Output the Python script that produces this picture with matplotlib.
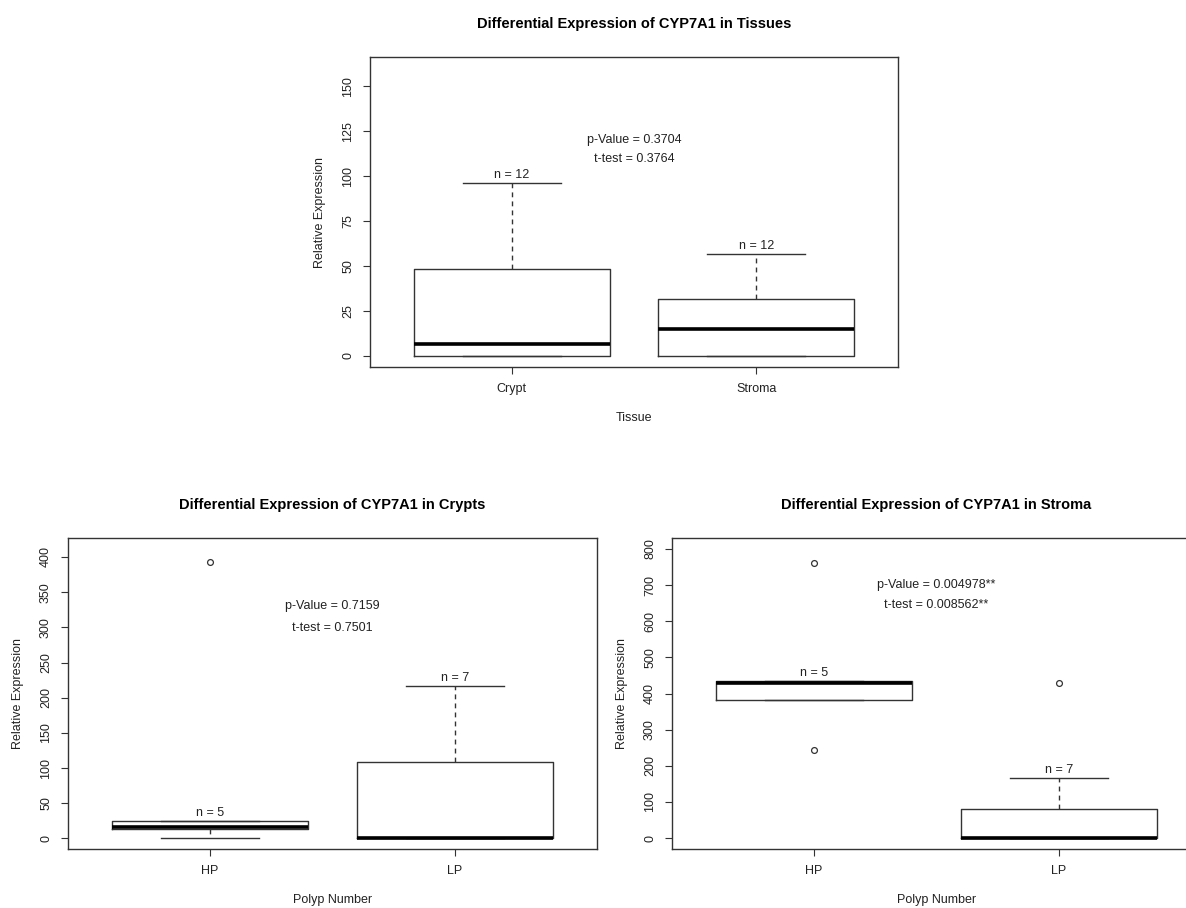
import matplotlib
matplotlib.use("Agg")
import matplotlib.pyplot as plt

plt.rcParams['font.family'] = ['Liberation Sans', 'DejaVu Sans']

# ---- Data ----
tissue_cats = ['Crypt', 'Stroma']
tissue_low = [0, 0]
tissue_q1 = [0, 0]
tissue_med = [6.5, 15]
tissue_q3 = [48, 31.5]
tissue_high = [96, 56.5]
tissue_fliers = [[], []]
tissue_n = ['n = 12', 'n = 12']
tissue_stats_text = ['p-Value = 0.3704', 't-test = 0.3764']

polyp_cats = ['HP', 'LP']
crypt_low = [0, 0]
crypt_q1 = [13.4, 0]
crypt_med = [16.7, 0.5]
crypt_q3 = [24.9, 108]
crypt_high = [24.9, 216]
crypt_fliers = [[393], []]
crypt_n = ['n = 5', 'n = 7']
crypt_stats_text = ['p-Value = 0.7159', 't-test = 0.7501']

stroma_low = [382, 0]
stroma_q1 = [382, 0]
stroma_med = [428, 0]
stroma_q3 = [434, 81]
stroma_high = [434, 165]
stroma_fliers = [[243, 762], [428]]
stroma_n = ['n = 5', 'n = 7']
stroma_stats_text = ['p-Value = 0.004978**', 't-test = 0.008562**']

W, H = 1186, 908
fig = plt.figure(figsize=(W / 100, H / 100), dpi=100)

LC = '#333333'
PT = 0.72  # points per pixel at dpi 100


def make_panel(rect, cats, low, q1, med, q3, high, fliers, nlab, stxt,
               ylim, yticks, title, xlabel, stxt_y):
    ax = fig.add_axes(rect)
    stats = []
    for i in range(len(cats)):
        stats.append(dict(med=med[i], q1=q1[i], q3=q3[i], whislo=low[i],
                          whishi=high[i], fliers=fliers[i], label=cats[i]))
    ax.bxp(stats, positions=[1, 2], widths=0.8, capwidths=0.4,
           patch_artist=False,
           boxprops=dict(color=LC, linewidth=1.0),
           medianprops=dict(color='black', linewidth=2.6, solid_capstyle='butt'),
           whiskerprops=dict(color=LC, linewidth=1.0, linestyle=(0, (3.5, 3))),
           capprops=dict(color=LC, linewidth=1.0),
           flierprops=dict(marker='o', markerfacecolor='none',
                           markeredgecolor=LC, markersize=4.2,
                           markeredgewidth=0.9))
    ax.set_xlim(0.42, 2.58)
    ax.set_ylim(*ylim)
    ax.set_xticks([1, 2])
    ax.set_xticklabels(cats)
    ax.set_yticks(yticks)
    ax.set_yticklabels([str(t) for t in yticks], rotation=90, va='center')
    ax.tick_params(axis='both', direction='out', length=5, width=0.8,
                   colors=LC, labelcolor='#222222', labelsize=9, pad=6.5)
    for s in ax.spines.values():
        s.set_color(LC)
        s.set_linewidth(1.0)
    for i in range(len(cats)):
        ax.annotate(nlab[i], xy=(i + 1, high[i]), xytext=(0, 1.5),
                    textcoords='offset points', ha='center', va='bottom',
                    fontsize=9, color='#222222')
    for j, t in enumerate(stxt):
        ax.text(1.5, stxt_y[j], t, ha='center', va='center', fontsize=9,
                color='#222222')
    ax.set_title(title, fontsize=10.5, fontweight='bold', pad=21 / PT * PT * 1.0 * 1.0 * 1.0 + 0)
    ax.annotate(xlabel, xy=(0.5, 0), xycoords='axes fraction',
                xytext=(0, -51 * PT), textcoords='offset points',
                ha='center', va='center', fontsize=9, color='#222222')
    ax.annotate('Relative Expression', xy=(0, 0.5), xycoords='axes fraction',
                xytext=(-50 * PT, 0), textcoords='offset points',
                ha='center', va='center', rotation=90, fontsize=9,
                color='#222222')
    return ax


make_panel([370 / W, 1 - 367 / H, 528 / W, 310 / H], tissue_cats,
           tissue_low, tissue_q1, tissue_med, tissue_q3, tissue_high,
           tissue_fliers, tissue_n, tissue_stats_text,
           (-6.4, 166.4), [0, 25, 50, 75, 100, 125, 150],
           'Differential Expression of CYP7A1 in Tissues', 'Tissue',
           [120, 109.5])

make_panel([68 / W, 1 - 849 / H, 529 / W, 311 / H], polyp_cats,
           crypt_low, crypt_q1, crypt_med, crypt_q3, crypt_high,
           crypt_fliers, crypt_n, crypt_stats_text,
           (-15, 427), [0, 50, 100, 150, 200, 250, 300, 350, 400],
           'Differential Expression of CYP7A1 in Crypts', 'Polyp Number',
           [330, 299])

make_panel([672 / W, 1 - 849 / H, 529 / W, 311 / H], polyp_cats,
           stroma_low, stroma_q1, stroma_med, stroma_q3, stroma_high,
           stroma_fliers, stroma_n, stroma_stats_text,
           (-30, 830), [0, 100, 200, 300, 400, 500, 600, 700, 800],
           'Differential Expression of CYP7A1 in Stroma', 'Polyp Number',
           [700, 646])

fig.savefig('out.png', dpi=100)
